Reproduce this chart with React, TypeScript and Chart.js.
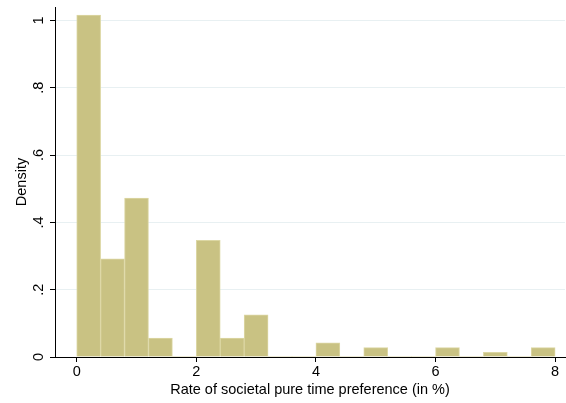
import React, { useEffect, useRef } from "react";
import { Chart, registerables } from "chart.js";

Chart.register(...registerables);

const binCenters = [0.2, 0.6, 1.0, 1.4, 1.8, 2.2, 2.6, 3.0, 3.4, 3.8, 4.2, 4.6, 5.0, 5.4, 5.8, 6.2, 6.6, 7.0, 7.4, 7.8];
const densities = [1.016, 0.292, 0.472, 0.056, 0, 0.347, 0.056, 0.125, 0, 0, 0.042, 0, 0.028, 0, 0, 0.028, 0, 0.014, 0, 0.028];
const xTicks = [0, 2, 4, 6, 8];
const xTickLabels = ["0", "2", "4", "6", "8"];
const yTicks = [0, 0.2, 0.4, 0.6, 0.8, 1];
const yTickLabels = ["0", ".2", ".4", ".6", ".8", "1"];
const xTitle = "Rate of societal pure time preference (in %)";
const yTitle = "Density";

const FONT = "Liberation Sans, Arial, sans-serif";

export default function App() {
  const ref = useRef<HTMLCanvasElement | null>(null);
  useEffect(() => {
    document.body.style.margin = "0";
    const canvas = ref.current!;
    const labelsPlugin = {
      id: "stataLabels",
      afterDraw(chart: any) {
        const ctx = chart.ctx;
        const y = chart.scales.y;
        const area = chart.chartArea;
        ctx.save();
        ctx.fillStyle = "#000";
        ctx.font = `14.5px ${FONT}`;
        ctx.textAlign = "center";
        ctx.textBaseline = "alphabetic";
        yTicks.forEach((v, i) => {
          const py = y.getPixelForValue(v);
          ctx.save();
          ctx.translate(43, py);
          ctx.rotate(-Math.PI / 2);
          ctx.fillText(yTickLabels[i], 0, 0);
          ctx.restore();
        });
        ctx.save();
        ctx.translate(26, (area.top + area.bottom) / 2);
        ctx.rotate(-Math.PI / 2);
        ctx.fillText(yTitle, 0, 0);
        ctx.restore();
        ctx.fillText(xTitle, (area.left + area.right) / 2, 393.5);
        ctx.restore();
      },
    };
    const chart = new Chart(canvas, {
      type: "bar",
      data: {
        datasets: [
          {
            data: binCenters.map((x, i) => ({ x, y: densities[i] })),
            backgroundColor: "#c9c283",
            borderColor: "#dcd7a4",
            borderWidth: (c: any) => (c.raw && c.raw.y === 0 ? 0 : 1),
            barPercentage: 1,
            categoryPercentage: 1,
          } as any,
        ],
      },
      options: {
        animation: false,
        responsive: false,
        devicePixelRatio: 1,
        layout: { padding: { top: 7, right: 1, left: 0, bottom: 0 } },
        plugins: { legend: { display: false }, tooltip: { enabled: false } },
        scales: {
          x: {
            type: "linear",
            offset: false,
            min: -0.363,
            max: 8.165,
            afterBuildTicks: (s: any) => {
              s.ticks = xTicks.map((v) => ({ value: v }));
            },
            afterFit: (s: any) => {
              s.height = 46;
            },
            ticks: {
              callback: (v: any) => xTickLabels[xTicks.indexOf(Number(v))] ?? "",
              color: "#000",
              font: { family: FONT, size: 14.5 },
              padding: 1,
              maxRotation: 0,
              autoSkip: false,
            },
            grid: { offset: false, drawOnChartArea: false, drawTicks: true, tickLength: 5, tickColor: "#000" },
            border: { color: "#000", width: 1 },
          },
          y: {
            type: "linear",
            min: 0,
            max: 1.04,
            afterBuildTicks: (s: any) => {
              s.ticks = yTicks.map((v) => ({ value: v }));
            },
            afterFit: (s: any) => {
              s.width = 55;
            },
            ticks: { display: false },
            grid: { color: "#e8f0f2", lineWidth: 1, drawTicks: true, tickLength: 5, tickColor: "#000" },
            border: { color: "#000", width: 1 },
          },
        },
      } as any,
      plugins: [labelsPlugin],
    });
    return () => chart.destroy();
  }, []);
  return (
    <div style={{ width: 566, height: 403 }}>
      <canvas ref={ref} width={566} height={403} style={{ display: "block" }} />
    </div>
  );
}
